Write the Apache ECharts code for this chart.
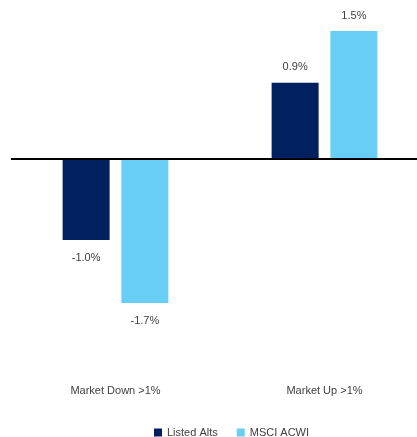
<!DOCTYPE html>
<html>
<head>
<meta charset="utf-8">
<script src="https://cdn.jsdelivr.net/npm/echarts@6/dist/echarts.min.js"></script>
<style>
  html, body { margin: 0; padding: 0; background: #fff; }
  #chart { width: 417px; height: 437px; }
</style>
</head>
<body>
<div id="chart"></div>
<script>
const categories = ['Market Down >1%', 'Market Up >1%'];
const listedAlts = [-0.96, 0.89];
const msciAcwi = [-1.7, 1.5];

const FONT = "'Liberation Sans', Arial, sans-serif";
const TEXT = '#404040';

// positive bars get label above, negative below
const toItems = (vals) => vals.map(v => ({
  value: v,
  label: { position: v < 0 ? 'bottom' : 'top', distance: v < 0 ? 12 : 10 }
}));

const chart = echarts.init(document.getElementById('chart'));
chart.setOption({
  animation: false,
  legend: {
    left: 149,
    top: 422,
    itemWidth: 8,
    itemHeight: 8,
    itemGap: 19,
    icon: 'rect',
    textStyle: { fontFamily: FONT, fontSize: 11, color: TEXT }
  },
  grid: { left: 11, width: 418, top: 22.5, bottom: 108.5, outerBoundsMode: 'none' },
  xAxis: {
    type: 'category',
    data: categories,
    axisLine: { show: false, onZero: false },
    axisTick: { show: false },
    axisLabel: { margin: 57, fontFamily: FONT, fontSize: 11, color: TEXT }
  },
  yAxis: {
    type: 'value',
    min: -2.0,
    max: 1.6,
    show: false,
    splitLine: { show: false }
  },
  series: [
    {
      name: 'Listed Alts',
      type: 'bar',
      data: toItems(listedAlts),
      barWidth: 47,
      barGap: '25%',
      itemStyle: { color: '#002060' },
      label: {
        show: true,
        fontFamily: FONT, fontSize: 11, color: TEXT,
        formatter: p => p.value.toFixed(1) + '%'
      },
      markLine: {
        silent: true,
        symbol: 'none',
        label: { show: false },
        lineStyle: { color: '#000', width: 2, type: 'solid' },
        data: [{ yAxis: 0 }]
      }
    },
    {
      name: 'MSCI ACWI',
      type: 'bar',
      data: toItems(msciAcwi),
      barWidth: 47,
      itemStyle: { color: '#69CEF5' },
      label: {
        show: true,
        fontFamily: FONT, fontSize: 11, color: TEXT,
        formatter: p => p.value.toFixed(1) + '%'
      }
    }
  ]
});
</script>
</body>
</html>
